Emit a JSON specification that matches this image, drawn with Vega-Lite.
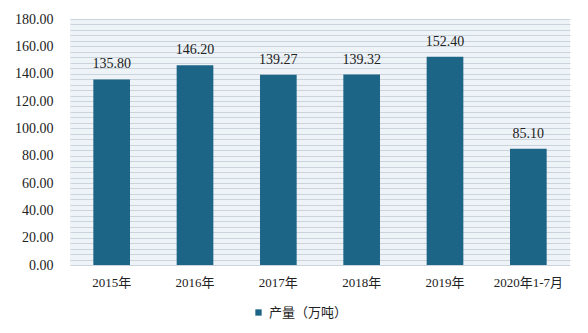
{
  "$schema": "https://vega.github.io/schema/vega-lite/v6.json",
  "autosize": "none",
  "width": 500,
  "height": 246,
  "padding": {"left": 70, "top": 19, "right": 18, "bottom": 68},
  "background": "#ffffff",
  "config": {
    "view": {"fill": "#eef3f8", "stroke": null},
    "font": "Liberation Serif, Noto Sans CJK SC"
  },
  "data": {
    "values": [
      {"year": "2015年", "series": "产量（万吨）", "value": 135.80},
      {"year": "2016年", "series": "产量（万吨）", "value": 146.20},
      {"year": "2017年", "series": "产量（万吨）", "value": 139.27},
      {"year": "2018年", "series": "产量（万吨）", "value": 139.32},
      {"year": "2019年", "series": "产量（万吨）", "value": 152.40},
      {"year": "2020年1-7月", "series": "产量（万吨）", "value": 85.10}
    ]
  },
  "encoding": {
    "x": {
      "field": "year", "type": "nominal", "sort": null,
      "scale": {"paddingInner": 0.56, "paddingOuter": 0.28},
      "axis": {"title": null, "labelAngle": 0, "domain": false, "ticks": false, "labelPadding": 11, "labelFontSize": 13, "labelColor": "#222222", "labelFont": "Liberation Serif, Noto Sans CJK SC"}
    },
    "y": {
      "field": "value", "type": "quantitative",
      "scale": {"domain": [0, 180], "nice": false},
      "axis": {
        "title": null, "domain": false, "ticks": false,
        "values": [0,4,8,12,16,20,24,28,32,36,40,44,48,52,56,60,64,68,72,76,80,84,88,92,96,100,104,108,112,116,120,124,128,132,136,140,144,148,152,156,160,164,168,172,176,180],
        "labelExpr": "datum.value % 20 === 0 ? format(datum.value, '.2f') : ''",
        "grid": true, "gridColor": "#cbd3dc", "gridWidth": 1,
        "labelPadding": 17, "labelFontSize": 14, "labelColor": "#222222", "labelFont": "Liberation Serif"
      }
    }
  },
  "layer": [
    {
      "mark": {"type": "bar", "color": "#1c6587"},
      "encoding": {
        "color": {
          "field": "series", "type": "nominal",
          "scale": {"range": ["#1c6587"]},
          "legend": {
            "title": null, "orient": "none", "legendX": 182, "legendY": 287,
            "symbolType": "square", "symbolSize": 40, "labelFontSize": 13,
            "labelFont": "Noto Sans CJK SC", "labelColor": "#222222", "symbolStrokeWidth": 0
          }
        }
      }
    },
    {
      "mark": {"type": "text", "baseline": "bottom", "dy": -8, "fontSize": 14, "color": "#222222", "font": "Liberation Serif"},
      "encoding": {"text": {"field": "value", "type": "quantitative", "format": ".2f"}}
    }
  ]
}
